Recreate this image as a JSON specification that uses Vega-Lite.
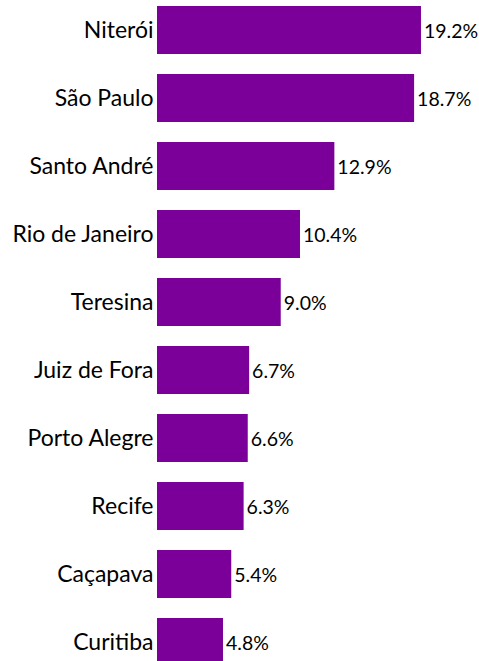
{
  "$schema": "https://vega.github.io/schema/vega-lite/v6.json",
  "autosize": "none",
  "width": 322,
  "height": 672,
  "padding": {"left": 157, "top": 0, "right": 0, "bottom": 0},
  "background": "white",
  "config": {"view": {"stroke": null}, "font": "Lato"},
  "data": {"values": [
    {"city": "Niterói", "share": 0.192},
    {"city": "São Paulo", "share": 0.187},
    {"city": "Santo André", "share": 0.129},
    {"city": "Rio de Janeiro", "share": 0.104},
    {"city": "Teresina", "share": 0.090},
    {"city": "Juiz de Fora", "share": 0.067},
    {"city": "Porto Alegre", "share": 0.066},
    {"city": "Recife", "share": 0.063},
    {"city": "Caçapava", "share": 0.054},
    {"city": "Curitiba", "share": 0.048}
  ]},
  "encoding": {
    "y": {"field": "city", "type": "nominal", "sort": null,
      "scale": {"paddingInner": 0.294, "paddingOuter": 0.088},
      "axis": {"title": null, "domain": false, "ticks": false, "labelPadding": 4, "labelFontSize": 23, "labelColor": "black", "labelFont": "Lato", "labelFontWeight": "normal", "labelBaseline": "middle", "labelOffset": 1}},
    "x": {"field": "share", "type": "quantitative", "scale": {"domain": [0, 0.2342], "nice": false}, "axis": null}
  },
  "layer": [
    {"mark": {"type": "bar", "color": "#7B0099"}},
    {"mark": {"type": "text", "align": "left", "dx": 3, "dy": 2, "fontSize": 19.5, "font": "Lato", "color": "black"},
     "encoding": {"text": {"field": "share", "type": "quantitative", "format": ".1%"}}}
  ]
}
